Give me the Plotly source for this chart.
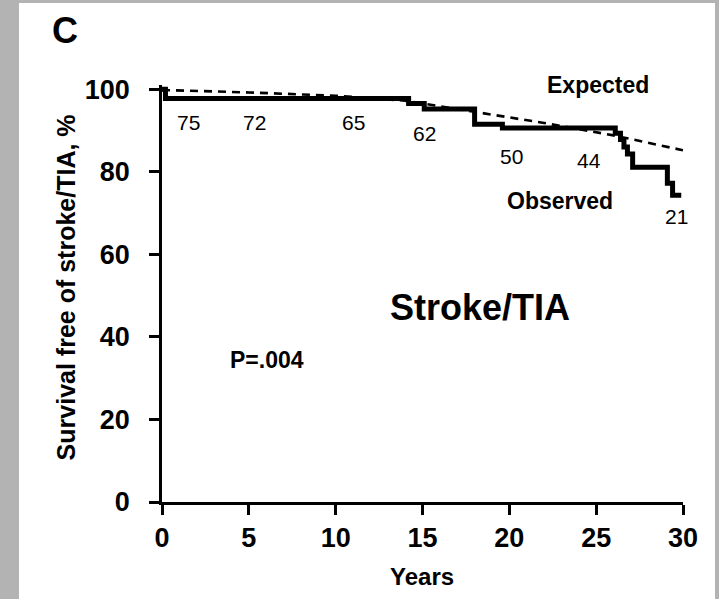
import plotly.graph_objects as go

# ---- data ----
obs_years = [0, 0.2, 14.2, 15.1, 18.0, 19.6, 26.1, 26.4, 26.6, 26.8, 27.1, 29.1, 29.4, 29.9]
obs_surv = [100, 97.7, 96.5, 95.2, 91.5, 90.6, 89.3, 87.8, 86.0, 84.3, 81.1, 77.2, 74.3, 74.3]

exp_years = [0, 5, 10, 14, 18, 22, 26, 30]
exp_surv = [99.8, 99.2, 98.4, 97.2, 94.5, 91.8, 88.8, 85.2]

risk_labels = ["75", "72", "65", "62", "50", "44", "21"]
risk_x = [1.5, 5.35, 11.05, 15.1, 20.1, 24.6, 29.6]
risk_y = [92, 92, 92, 89.3, 83.8, 82.8, 69.2]

x_ticks = [0, 5, 10, 15, 20, 25, 30]
y_ticks = [0, 20, 40, 60, 80, 100]

FONT = "Liberation Sans, Arial, sans-serif"

fig = go.Figure()

fig.add_trace(go.Scatter(
    x=exp_years, y=exp_surv, mode="lines",
    line=dict(color="black", width=2.6, dash="8px,6px"),
    hoverinfo="skip", showlegend=False, cliponaxis=False))

fig.add_trace(go.Scatter(
    x=obs_years, y=obs_surv, mode="lines",
    line=dict(color="black", width=5, shape="hv"),
    hoverinfo="skip", showlegend=False, cliponaxis=False))

annotations = []
for lab, xx, yy in zip(risk_labels, risk_x, risk_y):
    annotations.append(dict(x=xx, y=yy, xref="x", yref="y", text=lab, showarrow=False,
                            font=dict(family=FONT, size=21, color="black"),
                            xanchor="center", yanchor="middle"))

annotations += [
    dict(x=25.1, y=101, xref="x", yref="y", text="<b>Expected</b>", showarrow=False,
         font=dict(family=FONT, size=23, color="black"), xanchor="center", yanchor="middle"),
    dict(x=22.9, y=72.9, xref="x", yref="y", text="<b>Observed</b>", showarrow=False,
         font=dict(family=FONT, size=23, color="black"), xanchor="center", yanchor="middle"),
    dict(x=18.3, y=47.0, xref="x", yref="y", text="<b>Stroke/TIA</b>", showarrow=False,
         font=dict(family=FONT, size=36, color="black"), xanchor="center", yanchor="middle"),
    dict(x=6.05, y=34.4, xref="x", yref="y", text="<b>P=.004</b>", showarrow=False,
         font=dict(family=FONT, size=23, color="black"), xanchor="center", yanchor="middle"),
    dict(x=-0.186, y=1.13, xref="paper", yref="paper", text="<b>C</b>", showarrow=False,
         font=dict(family=FONT, size=36, color="black"), xanchor="center", yanchor="middle"),
    dict(x=-0.184, y=0.515, xref="paper", yref="paper", text="<b>Survival free of stroke/TIA, %</b>",
         showarrow=False, textangle=-90,
         font=dict(family=FONT, size=25, color="black"), xanchor="center", yanchor="middle"),
    dict(x=0.499, y=-0.178, xref="paper", yref="paper", text="<b>Years</b>", showarrow=False,
         font=dict(family=FONT, size=24, color="black"), xanchor="center", yanchor="middle"),
]

fig.update_layout(
    width=719, height=599,
    margin=dict(l=162, r=36, t=85, b=97),
    paper_bgcolor="#b3b3b3",
    plot_bgcolor="white",
    annotations=annotations,
    shapes=[dict(type="rect", xref="paper", yref="paper",
                 x0=(19 - 162) / 521, x1=(715 - 162) / 521,
                 y0=-0.4, y1=(502 - 3) / 417,
                 fillcolor="white", line=dict(width=0), layer="below")],
    xaxis=dict(range=[0, 30], tickvals=x_ticks, ticktext=[str(v) for v in x_ticks],
               showgrid=False, zeroline=False, showline=True, linecolor="black", linewidth=2.5,
               ticks="outside", ticklen=10, tickwidth=2.5, tickcolor="black",
               tickfont=dict(family=FONT, size=27, color="black", weight="bold"),
               ticklabelstandoff=0, fixedrange=True),
    yaxis=dict(range=[0, 101], tickvals=y_ticks, ticktext=[str(v) for v in y_ticks],
               showgrid=False, zeroline=False, showline=True, linecolor="black", linewidth=2.5,
               ticks="outside", ticklen=10, tickwidth=2.5, tickcolor="black",
               tickfont=dict(family=FONT, size=27, color="black", weight="bold"),
               ticklabelstandoff=14, fixedrange=True),
)

fig.write_html("out.html")
